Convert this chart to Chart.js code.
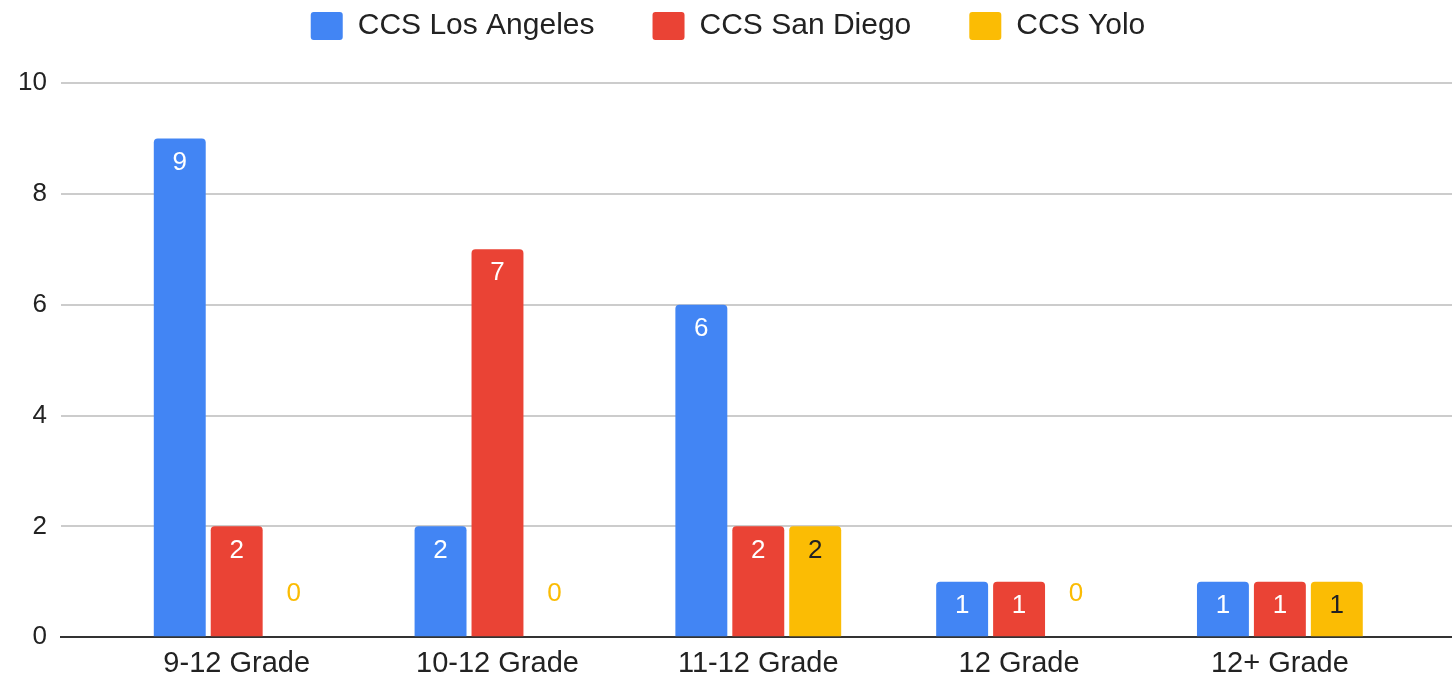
<!DOCTYPE html>
<html>
<head>
<meta charset="utf-8">
<title>CCS by grade span</title>
<script src="https://cdn.jsdelivr.net/npm/chart.js@4.4.1/dist/chart.umd.min.js"></script>
<style>
  html, body { margin: 0; padding: 0; background: #fff; }
  #wrap { width: 1452px; height: 676px; position: relative; }
</style>
</head>
<body>
<div id="wrap"><canvas id="chart"></canvas></div>
<script>
// data
const categories = ['9-12 Grade', '10-12 Grade', '11-12 Grade', '12 Grade', '12+ Grade'];
const seriesNames = ['CCS Los Angeles', 'CCS San Diego', 'CCS Yolo'];
const losAngeles = [9, 2, 6, 1, 1];
const sanDiego = [2, 7, 2, 1, 1];
const yolo = [0, 0, 2, 0, 1];
const yTicks = [0, 2, 4, 6, 8, 10];

const seriesColors = ['#4285f4', '#ea4335', '#fbbc04'];
const labelColors = ['#ffffff', '#ffffff', '#202124'];
const FONT = '"Liberation Sans", Arial, sans-serif';

const toPoints = (vals) => vals.map((v, i) => ({ x: i, y: v }));

// value labels: inside the top of a bar, or above the baseline for 0
const valueLabels = {
  id: 'valueLabels',
  afterDatasetsDraw(chart) {
    const ctx = chart.ctx;
    ctx.save();
    ctx.font = '26px ' + FONT;
    ctx.textAlign = 'center';
    ctx.textBaseline = 'middle';
    chart.data.datasets.forEach((ds, i) => {
      chart.getDatasetMeta(i).data.forEach((bar, j) => {
        const v = ds.data[j].y;
        if (v === 0) {
          ctx.fillStyle = seriesColors[i];
          ctx.fillText('0', bar.x, bar.base - 43);
        } else {
          ctx.fillStyle = labelColors[i];
          ctx.fillText(String(v), bar.x, bar.y + 24);
        }
      });
    });
    ctx.restore();
  }
};

const series = [losAngeles, sanDiego, yolo];

new Chart(document.getElementById('chart'), {
  type: 'bar',
  data: {
    datasets: series.map((vals, i) => ({
      label: seriesNames[i],
      data: toPoints(vals),
      backgroundColor: seriesColors[i],
      borderRadius: { topLeft: 4, topRight: 4 },
      borderSkipped: 'start',
      categoryPercentage: 0.655,
      barPercentage: 0.912,
    })),
  },
  options: {
    responsive: true,
    maintainAspectRatio: false,
    animation: false,
    layout: { padding: { top: -47, left: 4, right: 0, bottom: -14 } },
    plugins: {
      tooltip: { enabled: false },
      legend: {
        position: 'top',
        labels: {
          boxWidth: 32,
          boxHeight: 28,
          useBorderRadius: true,
          borderRadius: 3,
          padding: 58,
          color: '#222222',
          font: { family: FONT, size: 30 },
        },
      },
      // empty gap between legend and plot
      subtitle: {
        display: true,
        text: '',
        weight: 500,
        font: { size: 10, lineHeight: 1 },
        padding: { top: 22, bottom: 0 },
      },
    },
    scales: {
      x: {
        type: 'linear',
        offset: false,
        min: -0.674,
        max: 4.66,
        grid: { display: false, drawTicks: false },
        border: { display: true, color: '#333333', width: 2 },
        ticks: {
          stepSize: 1,
          includeBounds: false,
          autoSkip: false,
          maxRotation: 0,
          padding: 9,
          color: '#222222',
          font: { family: FONT, size: 29, lineHeight: 1.2 },
          callback: (v) => (Number.isInteger(v) ? categories[v] : ''),
        },
      },
      y: {
        min: yTicks[0],
        max: yTicks[yTicks.length - 1],
        afterBuildTicks: (axis) => { axis.ticks = yTicks.map((v) => ({ value: v })); },
        grid: {
          drawTicks: false,
          lineWidth: 2,
          color: (c) => (c.tick && c.tick.value === 0 ? 'rgba(0,0,0,0)' : '#cccccc'),
        },
        border: { display: false },
        ticks: {
          padding: 14,
          color: '#222222',
          font: { family: FONT, size: 26 },
        },
      },
    },
  },
  plugins: [valueLabels],
});
</script>
</body>
</html>
